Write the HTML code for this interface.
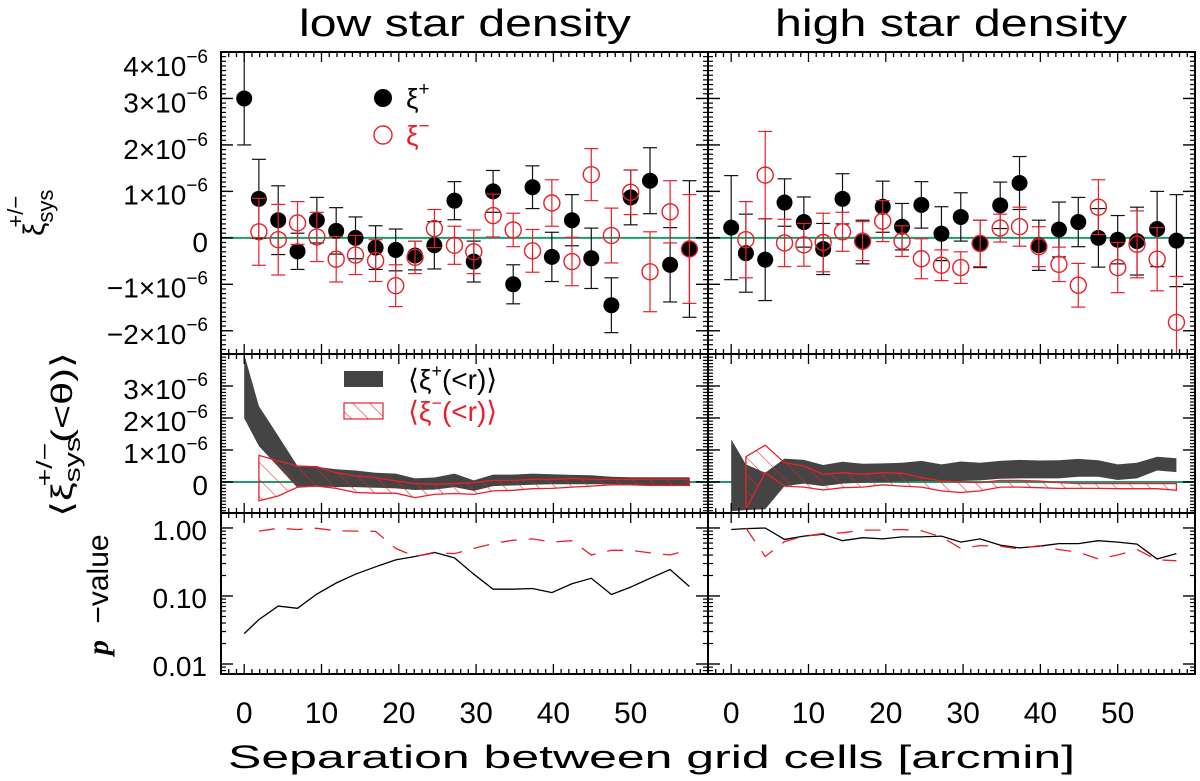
<!DOCTYPE html>
<html><head><meta charset="utf-8"><style>
html,body{margin:0;padding:0;background:#fff;}
svg{display:block;font-family:"Liberation Sans",sans-serif;}
</style></head><body>
<svg id="fig" width="1200" height="781" viewBox="0 0 1200 781">
<defs>
<pattern id="hatch" patternUnits="userSpaceOnUse" width="12" height="12" patternTransform="rotate(-45)">
<line x1="0" y1="0" x2="0" y2="12" stroke="#e8202a" stroke-width="1.1"/>
</pattern>
<clipPath id="clipL1"><rect x="221" y="52" width="487" height="302"/></clipPath>
<clipPath id="clipR1"><rect x="708" y="52" width="487" height="302"/></clipPath>
<clipPath id="clipL2"><rect x="221" y="354" width="487" height="159"/></clipPath>
<clipPath id="clipR2"><rect x="708" y="354" width="487" height="159"/></clipPath>
<clipPath id="clipL3"><rect x="221" y="513" width="487" height="161"/></clipPath>
<clipPath id="clipR3"><rect x="708" y="513" width="487" height="161"/></clipPath>
</defs>
<rect x="0" y="0" width="1200" height="781" fill="#fff"/>
<text x="465" y="36" font-size="38" text-anchor="middle" textLength="332" lengthAdjust="spacingAndGlyphs">low star density</text>
<text x="951" y="36" font-size="38" text-anchor="middle" textLength="352" lengthAdjust="spacingAndGlyphs">high star density</text>
<text x="228" y="768" font-size="32" textLength="847" lengthAdjust="spacingAndGlyphs">Separation between grid cells [arcmin]</text>
<g transform="translate(44,236) rotate(-90)"><text font-size="30">ξ<tspan dy="9" font-size="22">sys</tspan><tspan dx="-38" dy="-30" font-size="22">+/−</tspan></text></g>
<g transform="translate(72,517) rotate(-90)"><text font-size="30" textLength="165" lengthAdjust="spacingAndGlyphs">⟨ξ<tspan dy="8" font-size="22">sys</tspan><tspan dx="-36" dy="-28" font-size="22">+/−</tspan><tspan dy="20">(&lt;θ)⟩</tspan></text></g>
<g transform="translate(108,655) rotate(-90)"><text font-size="30"><tspan font-family="Liberation Serif, serif" font-style="italic" font-weight="bold">p</tspan><tspan dx="8"> −value</tspan></text></g>
<g id="layer"></g>
</svg>
<script>
// ---------- data ----------
const sepX = [0,1.9,4.4,6.9,9.4,11.9,14.4,17.0,19.6,22.1,24.6,27.2,29.7,32.2,34.8,37.3,39.8,42.4,44.9,47.5,50.0,52.5,55.1,57.6];
const xTickLabels = ["0","10","20","30","40","50"];
const xTickValues = [0,10,20,30,40,50];

const lowXiPlus = [3.0,0.84,0.38,-0.29,0.38,0.15,0.0,-0.21,-0.26,-0.38,-0.16,0.80,-0.51,1.0,-1.0,1.09,-0.41,0.38,-0.44,-1.45,0.87,1.23,-0.58,-0.24];
const lowXiPlusErr = [1.0,0.85,0.74,0.39,0.49,0.5,0.45,0.47,0.45,0.31,0.51,0.41,0.44,0.45,0.42,0.46,0.53,0.55,0.65,0.59,0.59,0.71,0.8,1.47];
const lowXiMinus = [null,0.13,-0.04,0.32,0.02,-0.46,-0.37,-0.49,-1.03,-0.42,0.2,-0.16,-0.30,0.48,0.17,-0.28,0.75,-0.51,1.36,0.05,0.98,-0.73,0.56,-0.24];
const lowXiMinusErr = [null,0.72,0.76,0.46,0.53,0.49,0.42,0.45,0.45,0.35,0.41,0.41,0.47,0.46,0.36,0.46,0.5,0.52,0.56,0.59,0.48,0.86,0.67,1.17];
const highXiPlus = [0.22,-0.33,-0.47,0.76,0.34,-0.24,0.84,-0.09,0.67,0.24,0.71,0.09,0.45,-0.13,0.70,1.18,-0.16,0.18,0.34,0.0,-0.04,-0.07,0.19,-0.06];
const highXiPlusErr = [1.12,0.84,0.88,0.51,0.54,0.55,0.54,0.47,0.55,0.5,0.5,0.58,0.52,0.51,0.5,0.57,0.54,0.59,0.53,0.63,0.52,0.73,0.81,0.99];
const highXiMinus = [null,-0.04,1.35,-0.11,-0.15,-0.1,0.13,-0.07,0.36,-0.07,-0.45,-0.59,-0.64,-0.12,0.21,0.24,-0.19,-0.57,-1.02,0.66,-0.64,-0.14,-0.46,-1.82];
const highXiMinusErr = [null,0.82,0.94,0.51,0.46,0.63,0.42,0.42,0.44,0.33,0.43,0.33,0.34,0.5,0.3,0.42,0.43,0.37,0.47,0.59,0.54,0.72,0.68,0.99];

const lowMeanPlusHi = [3.99,2.37,1.44,0.5,0.47,0.40,0.36,0.29,0.26,0.11,0.14,0.26,0.05,0.23,0.23,0.26,0.24,0.22,0.21,0.16,0.15,0.15,0.15,0.15];
const lowMeanPlusLo = [1.99,1.12,0.47,-0.18,-0.13,-0.16,-0.16,-0.18,-0.2,-0.25,-0.24,-0.16,-0.28,-0.13,-0.11,-0.09,-0.07,-0.07,-0.07,-0.07,-0.09,-0.1,-0.1,-0.11];
const lowMeanMinusHi = [null,0.83,0.66,0.5,0.48,0.29,0.19,0.14,0.03,-0.05,-0.07,-0.05,-0.02,0.05,0.05,0.08,0.08,0.11,0.08,0.08,0.08,0.09,0.09,0.09];
const lowMeanMinusLo = [null,-0.59,-0.44,-0.16,-0.13,-0.2,-0.33,-0.35,-0.35,-0.49,-0.39,-0.36,-0.39,-0.28,-0.26,-0.21,-0.2,-0.16,-0.13,-0.09,-0.09,-0.11,-0.11,-0.11];
const highMeanPlusHi = [1.33,0.55,0.29,0.73,0.69,0.53,0.63,0.57,0.58,0.6,0.66,0.55,0.64,0.6,0.66,0.69,0.67,0.68,0.72,0.68,0.55,0.6,0.79,0.74];
const highMeanPlusLo = [-0.91,-0.88,-0.85,-0.13,-0.05,-0.13,-0.05,-0.02,0,0.01,0.03,0.01,0.03,0.05,0.1,0.11,0.11,0.11,0.16,0.16,0.06,0.11,0.36,0.31];
const highMeanMinusHi = [null,0.79,1.15,0.6,0.5,0.24,0.29,0.24,0.29,0.27,0.14,0.03,0,-0.02,0.05,0.05,0.03,-0.02,-0.05,-0.05,-0.05,-0.05,-0.05,-0.05];
const highMeanMinusLo = [null,-0.85,0.29,-0.13,-0.16,-0.25,-0.18,-0.16,-0.09,-0.13,-0.16,-0.28,-0.33,-0.28,-0.16,-0.16,-0.18,-0.2,-0.2,-0.2,-0.21,-0.21,-0.21,-0.26];

const lowPPlus = [0.028,0.045,0.071,0.066,0.107,0.155,0.209,0.269,0.339,0.38,0.437,0.363,0.209,0.126,0.126,0.129,0.112,0.151,0.182,0.105,0.135,0.182,0.245,0.138];
const lowPMinus = [null,0.90,0.99,0.95,0.99,0.91,0.90,0.89,0.50,0.38,0.43,0.42,0.50,0.59,0.66,0.69,0.62,0.65,0.40,0.47,0.47,0.43,0.40,0.48];
const highPPlus = [0.95,0.98,1.0,0.68,0.76,0.81,0.65,0.72,0.69,0.74,0.74,0.76,0.62,0.69,0.56,0.51,0.54,0.59,0.59,0.65,0.62,0.58,0.35,0.42];
const highPMinus = [null,1.0,0.38,0.63,0.76,0.83,0.85,0.93,0.93,0.95,0.91,0.74,0.50,0.55,0.54,0.49,0.55,0.48,0.44,0.35,0.40,0.48,0.34,0.33];

const topTickValues = [4,3,2,1,0,-1,-2];
const topTickLabels = ["4×10","3×10","2×10","1×10","0","−1×10","−2×10"];
const midTickValues = [3,2,1,0];
const midTickLabels = ["3×10","2×10","1×10","0"];
const botTickValues = [1,0.1,0.01];
const botTickLabels = ["1.00","0.10","0.01"];

// ---------- layout / scales ----------
const NS = "http://www.w3.org/2000/svg";
const layer = document.getElementById("layer");
const COL = {L:{x0:221,x1:708}, R:{x0:708,x1:1195}};
const ROW = {top:{y0:52,y1:354}, mid:{y0:354,y1:513}, bot:{y0:513,y1:674}};
const RED = "#e8202a", GREEN = "#1f9a6e";
function xS(c, v){ return COL[c].x0 + (v+3)/63*(COL[c].x1-COL[c].x0); }
function yTop(v){ return 52 + (4 - v)/6.5*302; }
function yMid(v){ return 354 + (4 - v)/4.97*159; }
function yBot(p){ return 513 + (0.22 - Math.log10(p))/2.367*161; }

function el(tag, parent){ const e = document.createElementNS(NS, tag); (parent||layer).appendChild(e); return e; }
function line(g,x1,y1,x2,y2,stroke,w){ const l=el("line",g); l.setAttribute("x1",x1);l.setAttribute("y1",y1);l.setAttribute("x2",x2);l.setAttribute("y2",y2);l.setAttribute("stroke",stroke);l.setAttribute("stroke-width",w); return l; }

function frame(c, r, yMinorVals, yMajorVals, yf){
  const g = el("g");
  
  
  const {x0,x1} = COL[c], {y0,y1} = ROW[r];
  for(let v=-3; v<=60; v++){
    const x = xS(c,v);
    if(x<=x0+0.5||x>=x1-0.5) continue;
    const L = (v%10===0) ? 10 : 5;
    line(g,x,y1,x,y1-L,"#000",1.3); line(g,x,y0,x,y0+L,"#000",1.3);
  }
  yMinorVals.forEach(v=>{ const y=yf(v); if(y<=y0+0.5||y>=y1-0.5) return; line(g,x0,y,x0+5,y,"#000",1.2); line(g,x1,y,x1-5,y,"#000",1.2); });
  yMajorVals.forEach(v=>{ const y=yf(v); if(y<y0||y>y1) return; line(g,x0,y,x0+12,y,"#000",1.4); line(g,x1,y,x1-12,y,"#000",1.4); });
  const rc = el("rect",g); rc.setAttribute("x",x0); rc.setAttribute("y",y0); rc.setAttribute("width",x1-x0); rc.setAttribute("height",y1-y0); rc.setAttribute("fill","none"); rc.setAttribute("stroke","#000"); rc.setAttribute("stroke-width","2");
}
const minorTop=[],minorMid=[],minorBot=[];
for(let i=-25;i<=40;i++) minorTop.push(i/10);
for(let i=-10;i<=40;i++) minorMid.push(i/10);
[0.01,0.1,1].forEach(d=>{ for(let k=2;k<=9;k++) minorBot.push(d*k); });
minorBot.push(0.009,0.008);

["L","R"].forEach(c=>{
  const z1 = line(layer, COL[c].x0, yTop(0), COL[c].x1, yTop(0), GREEN, 2);
  
  
  const z2 = line(layer, COL[c].x0, yMid(0), COL[c].x1, yMid(0), GREEN, 2);
  
  
});

function scatter(c, vals, errs, color, filled, name){
  const g = el("g"); g.setAttribute("clip-path","url(#clip"+c+"1)");
  
  
  vals.forEach((v,i)=>{
    if(v===null) return;
    const x = xS(c, sepX[i]), e = errs[i];
    const ya = yTop(v+e), yb = yTop(v-e);
    line(g,x,ya,x,yb,color,1.2); line(g,x-7,ya,x+7,ya,color,1.2); line(g,x-7,yb,x+7,yb,color,1.2);
  });
  vals.forEach((v,i)=>{
    if(v===null) return;
    const ci = el("circle",g);
    
    
    ci.setAttribute("cx", xS(c,sepX[i])); ci.setAttribute("cy", yTop(v)); ci.setAttribute("r", 8);
    if(filled){ ci.setAttribute("fill","#000"); }
    else { ci.setAttribute("fill","none"); ci.setAttribute("stroke",color); ci.setAttribute("stroke-width","1.4"); }
  });
}
scatter("L", lowXiPlus, lowXiPlusErr, "#111", true, "low-xi-plus-series");
scatter("L", lowXiMinus, lowXiMinusErr, RED, false, "low-xi-minus-series");
scatter("R", highXiPlus, highXiPlusErr, "#111", true, "high-xi-plus-series");
scatter("R", highXiMinus, highXiMinusErr, RED, false, "high-xi-minus-series");

function band(c, hi, lo, fill, stroke, name){
  const pts = [];
  hi.forEach((v,i)=>{ if(v!==null) pts.push(xS(c,sepX[i]).toFixed(1)+","+yMid(v).toFixed(1)); });
  for(let i=lo.length-1;i>=0;i--){ if(lo[i]!==null) pts.push(xS(c,sepX[i]).toFixed(1)+","+yMid(lo[i]).toFixed(1)); }
  const p = el("polygon");
  
  
  p.setAttribute("points", pts.join(" ")); p.setAttribute("fill", fill);
  p.setAttribute("clip-path","url(#clip"+c+"2)");
  if(stroke){ p.setAttribute("stroke",stroke); p.setAttribute("stroke-width","1.3"); }
}
band("L", lowMeanPlusHi, lowMeanPlusLo, "#444", null, "low-mean-xi-plus-band");
band("L", lowMeanMinusHi, lowMeanMinusLo, "url(#hatch)", RED, "low-mean-xi-minus-band");
band("R", highMeanPlusHi, highMeanPlusLo, "#444", null, "high-mean-xi-plus-band");
band("R", highMeanMinusHi, highMeanMinusLo, "url(#hatch)", RED, "high-mean-xi-minus-band");

function pline(c, vals, color, dash, name){
  const pts=[];
  vals.forEach((v,i)=>{ if(v!==null) pts.push(xS(c,sepX[i]).toFixed(1)+","+yBot(v).toFixed(1)); });
  const p = el("polyline");
  
  
  p.setAttribute("points", pts.join(" ")); p.setAttribute("fill","none"); p.setAttribute("stroke",color); p.setAttribute("stroke-width","1.3");
  p.setAttribute("clip-path","url(#clip"+c+"3)");
  if(dash) p.setAttribute("stroke-dasharray","16 12");
}
pline("L", lowPPlus, "#000", false, "low-p-value-xi-plus");
pline("L", lowPMinus, RED, true, "low-p-value-xi-minus");
pline("R", highPPlus, "#000", false, "high-p-value-xi-plus");
pline("R", highPMinus, RED, true, "high-p-value-xi-minus");

["L","R"].forEach(c=>{
  frame(c,"top",minorTop,[-2,-1,0,1,2,3,4],yTop);
  frame(c,"mid",minorMid,[0,1,2,3,4],yMid);
  frame(c,"bot",minorBot,[0.01,0.1,1],yBot);
});

function label(x,y,txt,sup,size,anchor,name){
  const t = el("text");
  
  
  t.setAttribute("x",x); t.setAttribute("y",y); t.setAttribute("font-size",size); t.setAttribute("text-anchor",anchor);
  t.textContent = txt;
  if(sup){ const s = el("tspan",t); s.setAttribute("dy",-13); s.setAttribute("font-size",19); s.textContent = sup; }
  return t;
}
const topLabelShift = [14,4,4,3,4,3,3];
topTickValues.forEach((v,i)=>{
  label(208, yTop(v)+topLabelShift[i]+10, topTickLabels[i], v===0?null:"−6", 28, "end", "y-tick-label-top");
});
midTickValues.forEach((v,i)=>{
  label(208, yMid(v)+3+10, midTickLabels[i], v===0?null:"−6", 28, "end", "y-tick-label-middle");
});
botTickValues.forEach((v,i)=>{
  label(207, yBot(v)+2+10, botTickLabels[i], null, 28, "end", "y-tick-label-bottom");
});
["L","R"].forEach(c=>{
  xTickValues.forEach((v,i)=>{
    label(xS(c,v), 723, xTickLabels[i], null, 30, "middle", "x-tick-label");
  });
});

function legendCircle(cx,cy,filled){
  const ci = el("circle");
  
  
  ci.setAttribute("cx",cx); ci.setAttribute("cy",cy); ci.setAttribute("r",9);
  if(filled) ci.setAttribute("fill","#000"); else { ci.setAttribute("fill","none"); ci.setAttribute("stroke",RED); ci.setAttribute("stroke-width","1.4"); }
}
legendCircle(383,98,true); legendCircle(383,135,false);
const lt1 = label(406,108,"ξ","+",28,"start","legend-label-xi-plus");
const lt2 = label(406,145,"ξ","−",28,"start","legend-label-xi-minus"); lt2.setAttribute("fill",RED);
const lr1 = el("rect");


lr1.setAttribute("x",344); lr1.setAttribute("y",371); lr1.setAttribute("width",39); lr1.setAttribute("height",16); lr1.setAttribute("fill","#444");
const lr2 = el("rect");


lr2.setAttribute("x",344); lr2.setAttribute("y",403); lr2.setAttribute("width",39); lr2.setAttribute("height",16); lr2.setAttribute("fill","url(#hatch)"); lr2.setAttribute("stroke",RED); lr2.setAttribute("stroke-width","1.2");
const ml1 = el("text");


ml1.setAttribute("x",408); ml1.setAttribute("y",389); ml1.setAttribute("font-size",28);
ml1.innerHTML = '⟨ξ<tspan dy="-12" font-size="18">+</tspan><tspan dy="12">(&lt;r)⟩</tspan>';
const ml2 = el("text");


ml2.setAttribute("x",408); ml2.setAttribute("y",421); ml2.setAttribute("font-size",28); ml2.setAttribute("fill",RED);
ml2.innerHTML = '⟨ξ<tspan dy="-12" font-size="18">−</tspan><tspan dy="12">(&lt;r)⟩</tspan>';
</script>
</body></html>
